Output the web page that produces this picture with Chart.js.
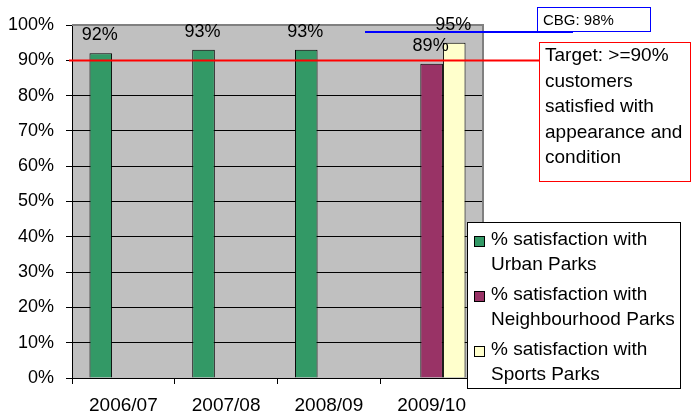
<!DOCTYPE html>
<html><head><meta charset="utf-8">
<script src="https://cdn.jsdelivr.net/npm/chart.js@4/dist/chart.umd.min.js"></script>
<style>html,body{margin:0;padding:0;background:#fff}canvas{display:block}</style>
</head><body>
<canvas id="c" width="692" height="414"></canvas>
<script>
const categories = ['2006/07', '2007/08', '2008/09', '2009/10'];
const urbanParks = [92, 93, 93, null];
const neighbourhoodParks = [null, null, null, 89];
const sportsParks = [null, null, null, 95];
const seriesNames = [
  ['% satisfaction with', 'Urban Parks'],
  ['% satisfaction with', 'Neighbourhood Parks'],
  ['% satisfaction with', 'Sports Parks']
];
const seriesColors = ['#339966', '#993366', '#ffffcc'];
const yTickValues = [0, 10, 20, 30, 40, 50, 60, 70, 80, 90, 100];
const targetValue = 90;
const cbgValue = 98;
const targetText = ['Target: >=90%', 'customers', 'satisfied with', 'appearance and', 'condition'];
const cbgText = 'CBG: 98%';

const FONT = '"Liberation Sans", Arial, sans-serif';

const decorPlugin = {
  id: 'decor',
  beforeDraw(chart) {
    const a = chart.chartArea, ctx = chart.ctx;
    ctx.save();
    ctx.fillStyle = '#c0c0c0';
    ctx.fillRect(a.left, a.top, a.right - a.left, a.bottom - a.top);
    ctx.restore();
  },
  afterDatasetsDraw(chart) {
    const ctx = chart.ctx, a = chart.chartArea, y = chart.scales.y;
    ctx.save();
    // plot border top/right
    ctx.strokeStyle = '#808080';
    ctx.lineWidth = 2;
    ctx.beginPath();
    ctx.moveTo(a.left, a.top); ctx.lineTo(a.right, a.top); ctx.lineTo(a.right, a.bottom);
    ctx.stroke();
    // data labels
    ctx.fillStyle = '#000';
    ctx.font = '18px ' + FONT;
    ctx.textAlign = 'center';
    ctx.textBaseline = 'alphabetic';
    chart.data.datasets.forEach((ds, di) => {
      const meta = chart.getDatasetMeta(di);
      meta.data.forEach((bar, i) => {
        const v = ds.data[i];
        if (v === null || v === undefined) return;
        ctx.fillText(v + '%', bar.x - 1, bar.y - 13);
      });
    });
    // target line
    const yt = Math.round(y.getPixelForValue(targetValue)) + 0.5;
    ctx.strokeStyle = '#ff0000';
    ctx.lineWidth = 2;
    ctx.beginPath(); ctx.moveTo(69, yt); ctx.lineTo(541, yt); ctx.stroke();
    // CBG line
    const yc = Math.round(y.getPixelForValue(cbgValue));
    ctx.strokeStyle = '#0000ff';
    ctx.beginPath(); ctx.moveTo(365, yc); ctx.lineTo(573, yc); ctx.stroke();
    // CBG box
    ctx.fillStyle = '#fff';
    ctx.fillRect(537, 7, 113, 25);
    ctx.strokeStyle = '#0000ff'; ctx.lineWidth = 1;
    ctx.strokeRect(537.5, 7.5, 113, 24);
    ctx.fillStyle = '#000';
    ctx.font = '15px ' + FONT;
    ctx.textAlign = 'left';
    ctx.fillText(cbgText, 543, 25);
    // Target box
    ctx.fillStyle = '#fff';
    ctx.fillRect(539, 42, 152, 140);
    ctx.strokeStyle = '#ff0000';
    ctx.strokeRect(539.5, 42.5, 151, 139);
    ctx.fillStyle = '#000';
    ctx.font = '19px ' + FONT;
    targetText.forEach((t, i) => ctx.fillText(t, 545, 61 + i * 25.5));
    // legend
    ctx.fillStyle = '#fff';
    ctx.fillRect(467, 222, 213, 166);
    ctx.strokeStyle = '#000';
    ctx.strokeRect(467.5, 222.5, 213, 166);
    chart.data.datasets.forEach((ds, i) => {
      const by = 236 + i * 55;
      ctx.fillStyle = ds.backgroundColor;
      ctx.fillRect(474, by, 10, 10);
      ctx.strokeStyle = '#000';
      ctx.strokeRect(474.5, by + 0.5, 10, 10);
      ctx.fillStyle = '#000';
      ctx.font = '19px ' + FONT;
      seriesNames[i].forEach((l, j) => ctx.fillText(l, 491, 245 + i * 55 + j * 25));
    });
    ctx.restore();
  }
};

new Chart(document.getElementById('c'), {
  type: 'bar',
  data: {
    labels: categories,
    datasets: [
      { label: seriesNames[0].join(' '), data: urbanParks, backgroundColor: seriesColors[0] },
      { label: seriesNames[1].join(' '), data: neighbourhoodParks, backgroundColor: seriesColors[1] },
      { label: seriesNames[2].join(' '), data: sportsParks, backgroundColor: seriesColors[2] }
    ]
  },
  options: {
    responsive: false,
    animation: false,
    devicePixelRatio: 1,
    layout: { padding: { left: 0, right: 209, top: 25, bottom: 0 } },
    datasets: {
      bar: { borderColor: '#000', borderWidth: 1, categoryPercentage: 0.66, barPercentage: 1, grouped: true }
    },
    plugins: { legend: { display: false }, tooltip: { enabled: false } },
    scales: {
      x: {
        afterFit(s) { s.height = 36; },
        grid: { offset: true, drawOnChartArea: false, drawTicks: true, tickLength: 6, color: '#000' },
        border: { color: '#000', width: 1 },
        ticks: { color: '#000', font: { family: FONT, size: 19 }, padding: 10, maxRotation: 0 }
      },
      y: {
        min: 0, max: 100,
        afterFit(s) { s.width = 72; },
        afterBuildTicks(s) { s.ticks = yTickValues.map(v => ({ value: v })); },
        grid: { color: '#000', tickLength: 6, drawTicks: true },
        border: { color: '#000', width: 1 },
        ticks: { color: '#000', font: { family: FONT, size: 18 }, padding: 12, callback: v => v + '%' }
      }
    }
  },
  plugins: [decorPlugin]
});
</script>
</body></html>
